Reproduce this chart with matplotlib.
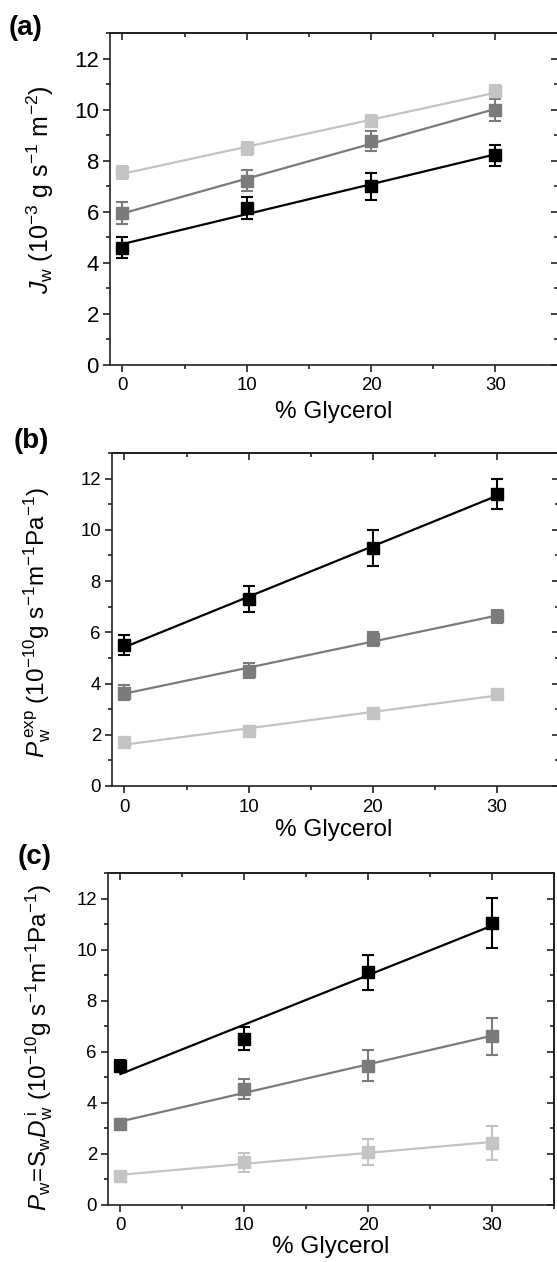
import numpy as np
import matplotlib
matplotlib.use('Agg')
import matplotlib.pyplot as plt
from matplotlib.ticker import MultipleLocator

# ---------------- data ----------------
glycerol = [0, 10, 20, 30]

# (a) J_w (10^-3 g s^-1 m^-2)
a_black = [4.6, 6.15, 7.0, 8.22]
a_black_err = [0.40, 0.42, 0.52, 0.41]
a_dark = [5.95, 7.22, 8.77, 9.98]
a_dark_err = [0.42, 0.42, 0.40, 0.42]
a_light = [7.55, 8.48, 9.55, 10.72]
a_light_err = [0.26, 0.26, 0.22, 0.24]

# (b) P_w^exp (10^-10 g s^-1 m^-1 Pa^-1)
b_black = [5.5, 7.3, 9.3, 11.4]
b_black_err = [0.40, 0.50, 0.70, 0.60]
b_dark = [3.65, 4.5, 5.75, 6.62]
b_dark_err = [0.28, 0.30, 0.28, 0.25]
b_light = [1.70, 2.15, 2.84, 3.60]
b_light_err = [0.15, 0.15, 0.13, 0.15]

# (c) P_w = S_w D_w^i (10^-10 g s^-1 m^-1 Pa^-1)
c_black = [5.45, 6.5, 9.1, 11.05]
c_black_err = [0.20, 0.45, 0.70, 0.98]
c_dark = [3.17, 4.53, 5.45, 6.6]
c_dark_err = [0.10, 0.38, 0.60, 0.73]
c_light = [1.12, 1.65, 2.05, 2.42]
c_light_err = [0.10, 0.37, 0.52, 0.66]

xticks = [0, 10, 20, 30]
yticks = [0, 2, 4, 6, 8, 10, 12]

# ---------------- style ----------------
plt.rcParams['font.family'] = ['Liberation Sans', 'DejaVu Sans']
plt.rcParams['mathtext.fontset'] = 'custom'
plt.rcParams['mathtext.rm'] = 'Liberation Sans'
plt.rcParams['mathtext.it'] = 'Liberation Sans:italic'
plt.rcParams['mathtext.bf'] = 'Liberation Sans:bold'

COLORS = ['#000000', '#7b7b7b', '#c4c4c4']

W, H = 557, 1262
fig = plt.figure(figsize=(W / 100, H / 100), dpi=100)


def axes_px(left, top, right, bottom):
    return fig.add_axes([left / W, 1 - bottom / H, (right - left) / W, (bottom - top) / H])


def panel(ax, series, ytick_fs, xtick_fs):
    x = np.array(glycerol, dtype=float)
    for (vals, errs), col in zip(series, COLORS):
        y = np.array(vals, dtype=float)
        k, b = np.polyfit(x, y, 1)
        ax.plot([x.min(), x.max()], [b, b + k * x.max()], color=col, lw=1.6, zorder=2)
        ax.errorbar(x, y, yerr=errs, fmt='s', color=col, ecolor=col, ms=8.8,
                    elinewidth=1.5, capsize=4.5, capthick=1.5, zorder=3)
    ax.set_xlim(-1, 35)
    ax.set_ylim(0, 13)
    ax.set_xticks(xticks)
    ax.set_yticks(yticks)
    ax.xaxis.set_minor_locator(MultipleLocator(5))
    ax.yaxis.set_minor_locator(MultipleLocator(1))
    for s in ax.spines.values():
        s.set_linewidth(1.2)
        s.set_color('#222222')
    ax.tick_params(which='both', direction='out', width=1.2, color='#222222')
    ax.tick_params(which='major', length=5)
    ax.tick_params(which='minor', length=2.8)
    ax.tick_params(axis='x', labelsize=xtick_fs, pad=4)
    ax.tick_params(axis='y', labelsize=ytick_fs, pad=3)
    # mirrored ticks inside on top/right
    sx = ax.secondary_xaxis('top')
    sx.set_xticks(xticks)
    sx.xaxis.set_minor_locator(MultipleLocator(5))
    sx.tick_params(which='both', direction='in', width=1.2, labeltop=False, color='#222222')
    sx.tick_params(which='major', length=5)
    sx.tick_params(which='minor', length=3)
    sx.spines['top'].set_linewidth(1.2)
    sy = ax.secondary_yaxis('right')
    sy.set_yticks(yticks)
    sy.yaxis.set_minor_locator(MultipleLocator(1))
    sy.tick_params(which='both', direction='in', width=1.2, labelright=False, color='#222222')
    sy.tick_params(which='major', length=5)
    sy.tick_params(which='minor', length=3)
    sy.spines['right'].set_linewidth(1.2)


# ---- (a)
ax_a = axes_px(110, 33, 557.5, 365)
panel(ax_a, [(a_black, a_black_err), (a_dark, a_dark_err), (a_light, a_light_err)], 16, 13.4)
fig.text(26 / W, 1 - 28 / H, '(a)', fontsize=20, fontweight='bold', ha='center', va='center')
fig.text(40 / W, 1 - 190 / H,
         r'$J_\mathrm{w}\ (10^{-3}\ \mathrm{g\ s}^{-1}\ \mathrm{m}^{-2})$',
         fontsize=18, rotation=90, ha='center', va='center')
fig.text(334 / W, 1 - 412 / H, '% Glycerol', fontsize=17.5, ha='center', va='center')

# ---- (b)
ax_b = axes_px(112, 453, 559, 786)
panel(ax_b, [(b_black, b_black_err), (b_dark, b_dark_err), (b_light, b_light_err)], 13.4, 13.4)
fig.text(31 / W, 1 - 441 / H, '(b)', fontsize=20, fontweight='bold', ha='center', va='center')
fig.text(37 / W, 1 - 622 / H,
         r'$P_\mathrm{w}^{\,\mathrm{exp}}\ (10^{-10}\mathrm{g\ s}^{-1}\mathrm{m}^{-1}\mathrm{Pa}^{-1})$',
         fontsize=17.5, rotation=90, ha='center', va='center')
fig.text(334 / W, 1 - 830 / H, '% Glycerol', fontsize=17.5, ha='center', va='center')

# ---- (c)
ax_c = axes_px(108, 873, 554, 1204.5)
panel(ax_c, [(c_black, c_black_err), (c_dark, c_dark_err), (c_light, c_light_err)], 13.4, 13.4)
fig.text(35 / W, 1 - 857 / H, '(c)', fontsize=20, fontweight='bold', ha='center', va='center')
fig.text(39 / W, 1 - 1047 / H,
         r'$P_\mathrm{w}\!=\!\mathrm{S}_\mathrm{w}D_\mathrm{w}^{\,\mathrm{i}}\ (10^{-10}\mathrm{g\ s}^{-1}\mathrm{m}^{-1}\mathrm{Pa}^{-1})$',
         fontsize=17.5, rotation=90, ha='center', va='center')
fig.text(331 / W, 1 - 1247 / H, '% Glycerol', fontsize=17.5, ha='center', va='center')

fig.savefig('out.png', dpi=100)
